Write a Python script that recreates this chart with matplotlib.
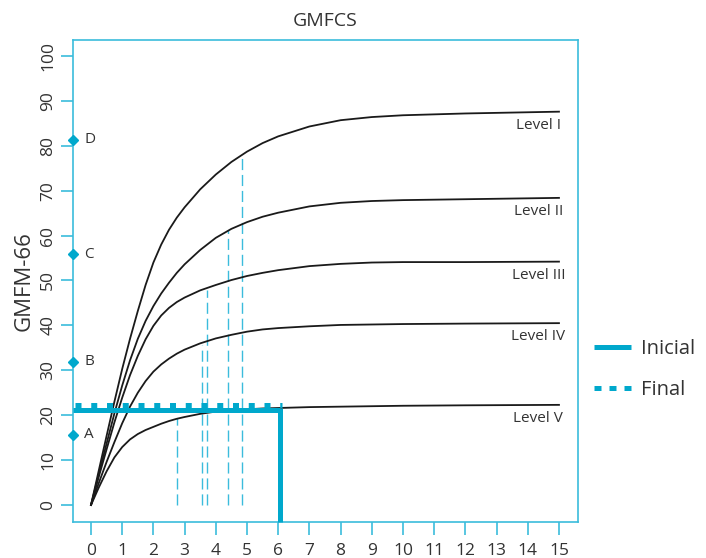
import matplotlib
matplotlib.use("Agg")
import matplotlib.pyplot as plt
from matplotlib.lines import Line2D

plt.rcParams['font.family'] = ['Open Sans', 'DejaVu Sans']

# age (years) where the curves were read
ages = [0, 0.25, 0.5, 0.75, 1, 1.25, 1.5, 1.75, 2, 2.25, 2.5, 2.75, 3,
        3.5, 4, 4.5, 5, 5.5, 6, 7, 8, 9, 10, 12, 15]
level_1 = [0, 7.7, 15.4, 23, 30.3, 37, 43.2, 49, 54, 58, 61.3, 64, 66.3,
           70.3, 73.6, 76.4, 78.7, 80.6, 82.1, 84.3, 85.7, 86.4, 86.8, 87.2, 87.6]
level_2 = [0, 6.9, 13.7, 20.4, 26.6, 32.2, 37, 41, 44.3, 47.1, 49.5, 51.7, 53.6,
           56.8, 59.5, 61.5, 63, 64.2, 65.1, 66.5, 67.3, 67.7, 67.9, 68.1, 68.4]
level_3 = [0, 6.3, 12.4, 18.4, 23.9, 28.9, 33.2, 36.9, 39.9, 42.2, 43.9, 45.2, 46.2,
           47.8, 49.0, 50.1, 51.0, 51.7, 52.3, 53.2, 53.7, 54, 54.1, 54.1, 54.2]
level_4 = [0, 4.9, 9.6, 14, 18.2, 21.9, 25, 27.6, 29.7, 31.3, 32.6, 33.7, 34.6,
           36, 37.1, 37.9, 38.6, 39.1, 39.4, 39.8, 40.1, 40.2, 40.3, 40.4, 40.5]
level_5 = [0, 3.9, 7.5, 10.6, 12.9, 14.6, 15.8, 16.7, 17.4, 18.1, 18.7, 19.2, 19.6,
           20.3, 20.8, 21.1, 21.3, 21.5, 21.6, 21.8, 21.9, 22, 22.1, 22.2, 22.3]
levels = [level_1, level_2, level_3, level_4, level_5]
level_names = ['Level I', 'Level II', 'Level III', 'Level IV', 'Level V']
label_y = [84.6, 65.3, 51.2, 37.6, 19.2]

# dashed drops
drop_x = [2.75, 3.55, 3.71, 4.38, 4.85]
drop_top = [19.3, 35.6, 47.8, 61.2, 78.2]

# points on the y axis
point_y = [15.6, 31.9, 55.8, 81.3]
point_names = ['A', 'B', 'C', 'D']

inicial_y = 21.2
final_y = 22.3
end_age = 6.06

cyan = '#00a8cc'
spine_c = '#3bbcdc'
txt = '#333333'

fig = plt.figure(figsize=(7.06, 5.58), dpi=100)
ax = fig.add_axes([0.1034, 0.0645, 0.7153, 0.8638])
xmin, xmax = -0.577, 15.61
ymin, ymax = -3.79, 103.56
ax.set_xlim(xmin, xmax)
ax.set_ylim(ymin, ymax)

for vals in levels:
    ax.plot(ages, vals, color='#1a1a1a', lw=1.3, zorder=3)
for name, y in zip(level_names, label_y):
    ax.text(14.34, y, name, ha='center', va='center', fontsize=11, color=txt)

ax.vlines(drop_x, 0, drop_top, colors='#3bbcdc', linestyles=(0, (8, 3.5)), lw=1.0, zorder=2)

# Inicial / Final
ax.plot([xmin, end_age], [inicial_y, inicial_y], color=cyan, lw=3.6,
        solid_capstyle='butt', zorder=4)
ax.plot([end_age, end_age], [ymin, inicial_y + 0.5], color=cyan, lw=3.6,
        solid_capstyle='butt', zorder=4, clip_on=False)
ax.plot([xmin + 0.05, end_age + 0.05], [final_y, final_y], color=cyan, lw=3.6,
        dashes=(1.2, 1.95), dash_capstyle='butt', zorder=4)

ax.plot([xmin] * len(point_y), point_y, 'D', color=cyan, ms=5, clip_on=False, zorder=5)
for name, y in zip(point_names, point_y):
    ax.text(-0.22, y, name, ha='left', va='center', fontsize=11, color=txt)

for s in ax.spines.values():
    s.set_color(spine_c)
    s.set_linewidth(1.2)
ax.set_xticks(range(0, 16))
ax.set_yticks(range(0, 101, 10))
ax.tick_params(axis='both', colors=spine_c, labelcolor=txt, length=9, width=1.2,
               labelsize=12.5)
ax.tick_params(axis='y', labelrotation=90, pad=3)
ax.tick_params(axis='x', pad=6)
for lab in ax.get_yticklabels():
    lab.set_va('center')

ax.set_title('GMFCS', fontsize=14, color=txt, pad=10)
ax.set_ylabel('GMFM-66', fontsize=16, color=txt, labelpad=4)

handles = [Line2D([], [], color=cyan, lw=3.6, solid_capstyle='butt'),
           Line2D([], [], color=cyan, lw=3.6, dashes=(1.4, 1.6), dash_capstyle='butt')]
leg = ax.legend(handles, ['Inicial', 'Final'], loc='center left',
                bbox_to_anchor=(0.996, 0.316), frameon=False, fontsize=14.5,
                handlelength=1.85, handletextpad=0.5, labelspacing=1.05)
for t in leg.get_texts():
    t.set_color(txt)

fig.savefig('out.png', dpi=100)
